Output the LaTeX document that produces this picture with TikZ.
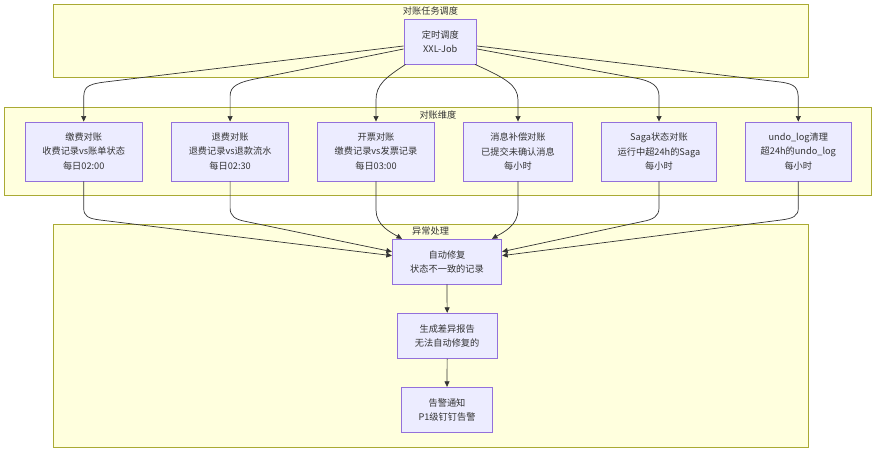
\documentclass[tikz,border=0pt]{standalone}
\usepackage{fontspec}
\setmainfont{Noto Sans CJK SC}
\usetikzlibrary{arrows.meta,calc}
\definecolor{clfill}{HTML}{FFFFDE}
\definecolor{clline}{HTML}{AAAA33}
\definecolor{nfill}{HTML}{ECECFF}
\definecolor{nline}{HTML}{9370DB}
\definecolor{ink}{HTML}{333333}
\newcommand{\lblfont}{\fontsize{9.2pt}{14.2pt}\selectfont}
\begin{document}
\begin{tikzpicture}[x=1pt,y=-1pt,
  cluster/.style={draw=clline,fill=clfill,line width=0.9pt},
  clabel/.style={text=ink,font=\lblfont,inner sep=0pt},
  box/.style={draw=nline,fill=nfill,line width=0.9pt,align=center,text=ink,font=\lblfont,inner sep=0pt},
  flow/.style={draw=ink,line width=0.7pt,-{Triangle[length=5.5pt,width=5pt]}}]
\useasboundingbox[fill=white] (0,0) rectangle (884,457);

% subgraph frames
\path[cluster] (53,4) rectangle (808,77.5);
\path[cluster] (4,107.3) rectangle (871.7,195.5);
\path[cluster] (53.3,224.5) rectangle (808,447.5);
\node[clabel] (ltask) at (430.5,11) {对账任务调度};
\node[clabel] (ldim) at (437.9,115) {对账维度};
\node[clabel] (lexc) at (430.6,231) {异常处理};

% scheduler
\node[box,minimum width=72.7pt,minimum height=45pt] (sched) at (440.3,41.5) {定时调度\\XXL-Job};

% reconciliation dimensions
\node[box,minimum width=117.5pt,minimum height=59pt] (n1) at (83.7,151.5) {缴费对账\\收费记录vs账单状态\\每日02:00};
\node[box,minimum width=117.2pt,minimum height=59pt] (n2) at (230.1,151.5) {退费对账\\退费记录vs退款流水\\每日02:30};
\node[box,minimum width=117.4pt,minimum height=59pt] (n3) at (376,151.5) {开票对账\\缴费记录vs发票记录\\每日03:00};
\node[box,minimum width=109.4pt,minimum height=59pt] (n4) at (518,151.5) {消息补偿对账\\已提交未确认消息\\每小时};
\node[box,minimum width=115.4pt,minimum height=59pt] (n5) at (659,151.5) {Saga状态对账\\运行中超24h的Saga\\每小时};
\node[box,minimum width=106pt,minimum height=59pt] (n6) at (798.3,151.5) {undo\_log清理\\超24h的undo\_log\\每小时};

% exception handling
\node[box,minimum width=109.4pt,minimum height=44.7pt] (fix) at (447,261.65) {自动修复\\状态不一致的记录};
\node[box,minimum width=99.7pt,minimum height=45pt] (report) at (447.15,335.8) {生成差异报告\\无法自动修复的};
\node[box,minimum width=91.4pt,minimum height=45.4pt] (alarm) at (447,410) {告警通知\\P1级钉钉告警};

% scheduler -> dimensions
\draw[flow] ($(sched.west)+(0,4.5)$) -- (105,82) .. controls (85,84.5) and (83.7,88) .. (83.7,100) -- (n1.north);
\draw[flow] ($(sched.west)+(0,7.5)$) -- (260,78) .. controls (238,82) and (230.1,86) .. (230.1,96) -- (n2.north);
\draw[flow] ($(sched.south west)+(2,0)$) .. controls (385,78) and (376,85) .. (376,100) -- (n3.north);
\draw[flow] ($(sched.south east)+(-2,0)$) .. controls (505,78) and (518,85) .. (518,100) -- (n4.north);
\draw[flow] ($(sched.east)+(0,7.5)$) -- (635,78) .. controls (652,81) and (659,86) .. (659,96) -- (n5.north);
\draw[flow] ($(sched.east)+(0,4.5)$) -- (780,82) .. controls (796,84) and (798.3,88) .. (798.3,100) -- (n6.north);

% dimensions -> auto repair
\draw[flow] (n1.south) -- (83.7,208) .. controls (83.7,216) and (88,218.5) .. (100,220) -- ($(fix.west)+(0,-6)$);
\draw[flow] (n2.south) -- (230.1,208) .. controls (230.1,216) and (235,219.5) .. (246,221.5) -- ($(fix.west)+(0,-10)$);
\draw[flow] (n3.south) -- (376,210) .. controls (376,225) and (390,232) .. ($(fix.north)+(-45,0)$);
\draw[flow] (n4.south) -- (518,210) .. controls (518,225) and (504,232) .. ($(fix.north)+(45,0)$);
\draw[flow] (n5.south) -- (659,208) .. controls (659,216) and (653.5,219.5) .. (642.5,221.5) -- ($(fix.east)+(0,-10)$);
\draw[flow] (n6.south) -- (798.3,208) .. controls (798.3,216) and (793,218.5) .. (781,220) -- ($(fix.east)+(0,-6)$);

% repair chain
\draw[flow] (fix.south) -- (report.north);
\draw[flow] (report.south) -- (alarm.north);
\end{tikzpicture}
\end{document}
